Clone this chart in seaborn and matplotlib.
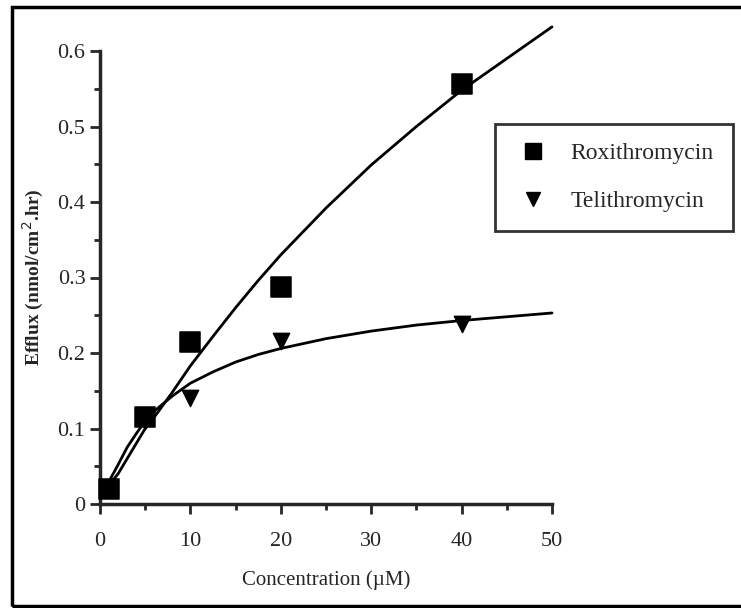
import matplotlib
matplotlib.use("Agg")
import matplotlib.pyplot as plt
import seaborn as sns
import pandas as pd
from matplotlib.lines import Line2D
from matplotlib.patches import Rectangle
from matplotlib.ticker import MultipleLocator

conc_pts = [1, 5, 10, 20, 40]
roxi_pts = [0.020, 0.115, 0.215, 0.288, 0.556]
teli_pts = [0.020, 0.110, 0.140, 0.216, 0.238]

# Courbes ajustées (lues point par point)
curve_x = [1, 2, 3, 4, 5, 6, 8, 10, 12.5, 15, 17.5, 20, 25, 30, 35, 40, 45, 50]
roxi_curve = [0.025, 0.040, 0.060, 0.080, 0.100, 0.115, 0.148, 0.183, 0.222, 0.260,
              0.296, 0.330, 0.392, 0.449, 0.500, 0.548, 0.590, 0.632]
teli_curve = [0.030, 0.052, 0.075, 0.093, 0.110, 0.123, 0.143, 0.160, 0.175, 0.188,
              0.198, 0.206, 0.219, 0.229, 0.237, 0.243, 0.248, 0.253]

pts = pd.DataFrame({"conc": conc_pts, "roxi": roxi_pts, "teli": teli_pts})
curves = pd.DataFrame({"x": curve_x, "roxi": roxi_curve, "teli": teli_curve})

sns.set_style("ticks")
plt.rcParams["font.family"] = ["Liberation Serif", "DejaVu Serif"]

fig = plt.figure(figsize=(7.41, 6.08), dpi=100)
ax = fig.add_axes([100 / 741, 1 - 504 / 608, 452 / 741, 453 / 608])

sns.lineplot(data=curves, x="x", y="roxi", color="black", lw=2, ax=ax)
sns.lineplot(data=curves, x="x", y="teli", color="black", lw=2, ax=ax)
for ln in ax.lines:
    ln.set_clip_on(False)
sns.scatterplot(data=pts, x="conc", y="teli", marker="v", s=140, color="black",
                edgecolor="black", ax=ax, zorder=3, clip_on=False)
sns.scatterplot(data=pts, x="conc", y="roxi", marker="s", s=190, color="black",
                edgecolor="black", ax=ax, zorder=4, clip_on=False)

ax.set_xlim(0, 50)
ax.set_ylim(0, 0.6)
ax.xaxis.set_major_locator(MultipleLocator(10))
ax.xaxis.set_minor_locator(MultipleLocator(5))
ax.yaxis.set_major_locator(MultipleLocator(0.1))
ax.yaxis.set_minor_locator(MultipleLocator(0.05))
ax.set_yticks([0, 0.1, 0.2, 0.3, 0.4, 0.5, 0.6])
ax.set_yticklabels(["0", "0.1", "0.2", "0.3", "0.4", "0.5", "0.6"])
ax.tick_params(which="major", length=7, width=2, labelsize=16)
ax.tick_params(axis="x", which="major", pad=13)
ax.tick_params(which="minor", length=4, width=2)
for s in ["left", "bottom"]:
    ax.spines[s].set_linewidth(2.5)
sns.despine(ax=ax)

ax.set_xlabel("Concentration (µM)", fontsize=15, labelpad=14)
ax.set_ylabel("Efflux (nmol/cm$^2$.hr)", fontsize=14, fontweight="bold", labelpad=8)

handles = [
    Line2D([], [], marker="s", ls="none", color="black", markersize=11),
    Line2D([], [], marker="v", ls="none", color="black", markersize=10),
]
leg = fig.legend(handles, ["Roxithromycin", "Telithromycin"], loc="upper left",
                 bbox_to_anchor=(495 / 741, 1 - 124 / 608), frameon=True,
                 fontsize=17, labelspacing=1.1, borderpad=0.8, handletextpad=0.8,
                 handlelength=1.6, borderaxespad=0, fancybox=False)
leg.get_frame().set_edgecolor("black")
leg.get_frame().set_linewidth(2)

# cadre autour de la figure
fig.add_artist(Rectangle((12 / 741, 2 / 608), 1.0, 1 - 9 / 608,
                         transform=fig.transFigure, fill=False, lw=2.5,
                         edgecolor="black"))

fig.savefig("out.png", dpi=100)
